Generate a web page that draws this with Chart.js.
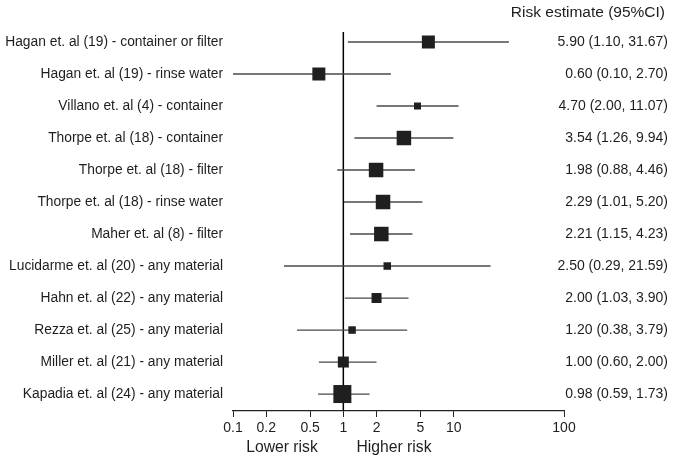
<!DOCTYPE html>
<html>
<head>
<meta charset="utf-8">
<script src="https://cdn.jsdelivr.net/npm/chart.js@4"></script>
<style>
  body { margin: 0; background: #fff; }
</style>
</head>
<body>
<canvas id="forest" width="675" height="461"></canvas>
<script>
const studies = [
  "Hagan et. al (19) - container or filter",
  "Hagan et. al (19) - rinse water",
  "Villano et. al (4) - container",
  "Thorpe et. al (18) - container",
  "Thorpe et. al (18) - filter",
  "Thorpe et. al (18) - rinse water",
  "Maher et. al (8) - filter",
  "Lucidarme et. al (20) - any material",
  "Hahn et. al (22) - any material",
  "Rezza et. al (25) - any material",
  "Miller et. al (21) - any material",
  "Kapadia et. al (24) - any material",
];
const estimate = [5.90, 0.60, 4.70, 3.54, 1.98, 2.29, 2.21, 2.50, 2.00, 1.20, 1.00, 0.98];
const lower = [1.10, 0.10, 2.00, 1.26, 0.88, 1.01, 1.15, 0.29, 1.03, 0.38, 0.60, 0.59];
const upper = [31.67, 2.70, 11.07, 9.94, 4.46, 5.20, 4.23, 21.59, 3.90, 3.79, 2.00, 1.73];
// relative study weight (drawn as square size)
const weight = [13, 13, 7, 14.5, 14.5, 14.5, 14.5, 7.5, 10, 7.5, 11, 18];
const xTicks = [0.1, 0.2, 0.5, 1, 2, 5, 10, 100];

const FONT = "'Liberation Sans', Arial, sans-serif";
const yMin = 0.6875, yMax = 12.53;

const ciSets = studies.map((s, i) => ({
  type: "scatter",
  data: [{ x: lower[i], y: i + 1 }, { x: upper[i], y: i + 1 }],
  showLine: true,
  borderColor: "#4a4a4a",
  borderWidth: 1.3,
  pointRadius: 0,
  clip: false,
}));

const textPlugin = {
  id: "forestText",
  afterDraw(chart) {
    const ctx = chart.ctx;
    const y = chart.scales.y;
    ctx.save();
    ctx.fillStyle = "#1e1e1e";
    ctx.textBaseline = "middle";
    ctx.textAlign = "right";
    studies.forEach((s, i) => {
      const py = y.getPixelForValue(i + 1);
      ctx.font = "13.8px " + FONT;
      ctx.fillText(s, 223, py);
      const ci = estimate[i].toFixed(2) + " (" + lower[i].toFixed(2) + ", " + upper[i].toFixed(2) + ")";
      ctx.font = "14px " + FONT;
      ctx.fillText(ci, 668, py);
    });
    ctx.font = "15.5px " + FONT;
    ctx.fillText("Risk estimate (95%CI)", 665, 13);
    ctx.textAlign = "center";
    ctx.font = "15.7px " + FONT;
    ctx.fillText("Lower risk", 282, 448);
    ctx.fillText("Higher risk", 394, 448);
    ctx.restore();
  },
};

new Chart(document.getElementById("forest"), {
  type: "scatter",
  data: {
    datasets: [
      {
        data: estimate.map((v, i) => ({ x: v, y: i + 1 })),
        pointStyle: "rect",
        pointRadius: weight.map((w) => w / Math.SQRT2),
        pointHoverRadius: weight.map((w) => w / Math.SQRT2),
        backgroundColor: "#1f1f1f",
        borderWidth: 0,
        clip: false,
      },
      ...ciSets,
      {
        type: "scatter",
        data: [{ x: 1, y: yMin }, { x: 1, y: yMax }],
        showLine: true,
        borderColor: "#000",
        borderWidth: 1.5,
        pointRadius: 0,
        clip: false,
      },
    ],
  },
  options: {
    responsive: false,
    animation: false,
    layout: { padding: { left: 233, right: 111, top: 32, bottom: 0 } },
    plugins: {
      legend: { display: false },
      tooltip: { enabled: false },
    },
    scales: {
      x: {
        type: "logarithmic",
        min: 0.1,
        max: 100,
        afterBuildTicks: (axis) => {
          axis.ticks = xTicks.map((v) => ({ value: v }));
        },
        afterFit: (axis) => {
          axis.height = 50;
        },
        ticks: {
          autoSkip: false,
          maxRotation: 0,
          padding: 3,
          color: "#1e1e1e",
          font: { family: FONT, size: 14 },
          callback: (v) => String(v),
        },
        grid: {
          drawOnChartArea: false,
          drawTicks: true,
          tickLength: 6,
          color: "#222",
        },
        border: { display: true, color: "#222", width: 1.2 },
      },
      y: {
        display: false,
        reverse: true,
        min: yMin,
        max: yMax,
      },
    },
  },
  plugins: [textPlugin],
});
</script>
</body>
</html>
